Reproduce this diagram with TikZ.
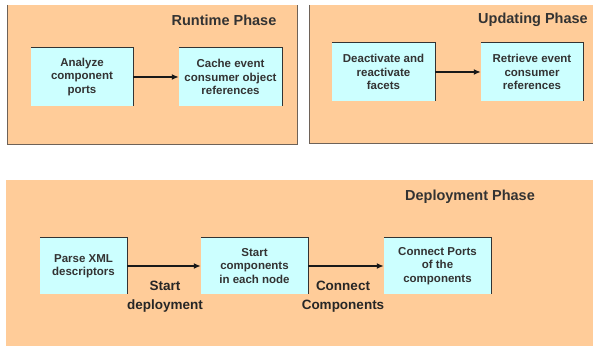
\documentclass[tikz,border=0pt]{standalone}
\usepackage{fontspec}
\setmainfont{Liberation Sans}
\usetikzlibrary{arrows.meta}
\definecolor{peach}{HTML}{FFCC99}
\definecolor{paleblue}{HTML}{CCFFFF}
\definecolor{edge}{HTML}{6E6258}
\tikzset{
  panel/.style={fill=peach, draw=none},
  panelline/.style={draw=edge, line width=0.9pt},
  stepbox/.style={fill=paleblue, draw=none, rectangle, inner sep=0pt,
    align=center, font=\bfseries\fontsize{11.5}{13.5}\selectfont, text=black!80},
  boxline/.style={draw=black!80, line width=0.9pt},
  title/.style={font=\bfseries\fontsize{14.5}{16}\selectfont, text=black!80},
  flowlabel/.style={font=\bfseries\fontsize{13.5}{19}\selectfont, align=center, text=black!85},
  flow/.style={-{Latex[length=7pt,width=6pt]}, line width=1.5pt, black!90},
}
\begin{document}
\begin{tikzpicture}[x=1pt,y=-1pt]
\useasboundingbox (0,0) rectangle (595,350);
\fill[white] (0,0) rectangle (595,350);

% panels
\fill[panel] (7,5) rectangle (297,144);
\draw[panelline] (7,5) -- (7,144) -- (297,144) -- (297,5);
\fill[panel] (309,5) rectangle (593,143);
\draw[panelline] (309,5) -- (309,143) -- (593,143);
\fill[panel] (6,180) rectangle (593,346);

% titles
\node[title] (trun) at (224,20) {Runtime Phase};
\node[title] (tupd) at (533,20) {Updating Phase};
\node[title] (tdep) at (470,197) {Deployment Phase};

% runtime phase
\node[stepbox, minimum width=102pt, minimum height=58pt] (analyze) at (82,77)
  {Analyze\\component\\ports};
\node[stepbox, minimum width=103pt, minimum height=58pt] (cache) at (230.5,77)
  {Cache event\\consumer object\\references};

% updating phase
\node[stepbox, minimum width=103pt, minimum height=58pt] (deact) at (383.5,72)
  {Deactivate and\\reactivate\\facets};
\node[stepbox, minimum width=102pt, minimum height=58pt] (retr) at (532,72)
  {Retrieve event\\consumer\\references};

% deployment phase
\node[stepbox, minimum width=87pt, minimum height=56pt] (parse) at (83.5,266)
  {Parse XML\\descriptors};
\node[stepbox, minimum width=107pt, minimum height=56pt] (start) at (254.5,266)
  {Start\\components\\in each node};
\node[stepbox, minimum width=107pt, minimum height=56pt] (conn) at (437.5,266)
  {Connect Ports\\of the\\components};

% raised edges of the step boxes
\foreach \b in {analyze,cache,deact,retr,parse,start,conn}{
  \draw[boxline] (\b.north west) -- (\b.north east) -- (\b.south east);
}

% connectors
\draw[flow] (analyze.east) -- (cache.west);
\draw[flow] (deact.east) -- (retr.west);
\draw[flow] (parse.east) -- (start.west);
\draw[flow] (start.east) -- (conn.west);

% connector labels
\node[flowlabel] (lstart) at (165,296.5) {Start\\deployment};
\node[flowlabel] (lconn) at (343,296.5) {Connect\\Components};
\end{tikzpicture}
\end{document}
